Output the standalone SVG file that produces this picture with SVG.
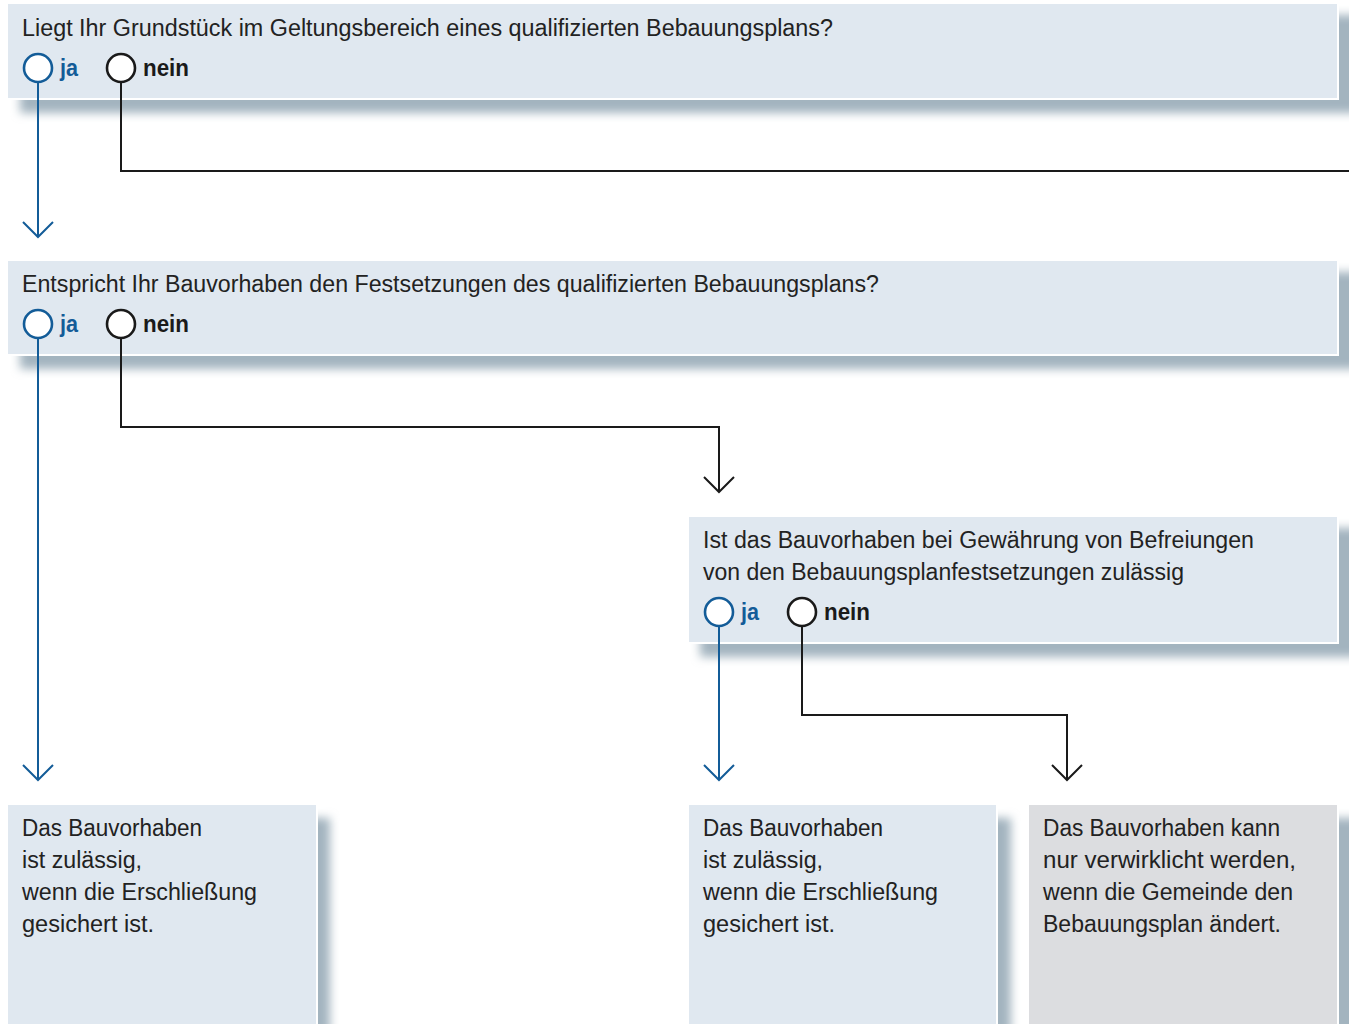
<svg xmlns="http://www.w3.org/2000/svg" width="1349" height="1024" viewBox="0 0 1349 1024">
<defs>
<filter id="sh" x="-10%" y="-50%" width="120%" height="200%">
<feGaussianBlur stdDeviation="5"/>
</filter>
<style>
.box{fill:#e0e8f0;stroke:#ffffff;stroke-width:2}
.gbox{fill:#dcdde0;stroke:#ffffff;stroke-width:2}
.shadow{fill:#a3b4bf;filter:url(#sh)}
.t{font-family:"Liberation Sans",Arial,sans-serif;font-size:23px;fill:#222222}
.ja{font-family:"Liberation Sans",Arial,sans-serif;font-size:23px;font-weight:bold;fill:#135c98}
.nein{font-family:"Liberation Sans",Arial,sans-serif;font-size:23px;font-weight:bold;fill:#1a1a1a}
.cb{fill:#ffffff;stroke:#135c98;stroke-width:2.6}
.ck{fill:#ffffff;stroke:#1a1a1a;stroke-width:2.6}
.lb{fill:none;stroke:#135c98;stroke-width:2}
.lk{fill:none;stroke:#1a1a1a;stroke-width:2}
</style>
</defs>
<rect width="1349" height="1024" fill="#ffffff"/>

<g id="q1">
<rect class="shadow" x="20" y="15" width="1340" height="98"/>
<rect class="box" x="7" y="3" width="1331" height="96"/>
<text class="t" x="22" y="36" textLength="811" lengthAdjust="spacingAndGlyphs">Liegt Ihr Grundstück im Geltungsbereich eines qualifizierten Bebauungsplans?</text>
<circle class="cb" cx="38" cy="68" r="14"/>
<text class="ja" x="60" y="76" textLength="18" lengthAdjust="spacingAndGlyphs">ja</text>
<circle class="ck" cx="121" cy="68" r="14"/>
<text class="nein" x="143" y="76" textLength="46" lengthAdjust="spacingAndGlyphs">nein</text>
</g>

<g id="q2">
<rect class="shadow" x="20" y="272" width="1340" height="97"/>
<rect class="box" x="7" y="260" width="1331" height="95"/>
<text class="t" x="22" y="292" textLength="857" lengthAdjust="spacingAndGlyphs">Entspricht Ihr Bauvorhaben den Festsetzungen des qualifizierten Bebauungsplans?</text>
<circle class="cb" cx="38" cy="324" r="14"/>
<text class="ja" x="60" y="332" textLength="18" lengthAdjust="spacingAndGlyphs">ja</text>
<circle class="ck" cx="121" cy="324" r="14"/>
<text class="nein" x="143" y="332" textLength="46" lengthAdjust="spacingAndGlyphs">nein</text>
</g>

<g id="q3">
<rect class="shadow" x="700" y="528" width="660" height="129"/>
<rect class="box" x="688" y="516" width="650" height="127"/>
<text class="t" x="703" y="548" textLength="551" lengthAdjust="spacingAndGlyphs">Ist das Bauvorhaben bei Gewährung von Befreiungen</text>
<text class="t" x="703" y="580" textLength="481" lengthAdjust="spacingAndGlyphs">von den Bebauungsplanfestsetzungen zulässig</text>
<circle class="cb" cx="719" cy="612" r="14"/>
<text class="ja" x="741" y="620" textLength="18" lengthAdjust="spacingAndGlyphs">ja</text>
<circle class="ck" cx="802" cy="612" r="14"/>
<text class="nein" x="824" y="620" textLength="46" lengthAdjust="spacingAndGlyphs">nein</text>
</g>

<g id="r1">
<rect class="shadow" x="20" y="818" width="310" height="230"/>
<rect class="box" x="7" y="804" width="310" height="240"/>
<text class="t" x="22" y="836" textLength="180" lengthAdjust="spacingAndGlyphs">Das Bauvorhaben</text>
<text class="t" x="22" y="868" textLength="120" lengthAdjust="spacingAndGlyphs">ist zulässig,</text>
<text class="t" x="22" y="900" textLength="235" lengthAdjust="spacingAndGlyphs">wenn die Erschließung</text>
<text class="t" x="22" y="932" textLength="132" lengthAdjust="spacingAndGlyphs">gesichert ist.</text>
</g>

<g id="r2">
<rect class="shadow" x="701" y="818" width="310" height="230"/>
<rect class="box" x="688" y="804" width="309" height="240"/>
<text class="t" x="703" y="836" textLength="180" lengthAdjust="spacingAndGlyphs">Das Bauvorhaben</text>
<text class="t" x="703" y="868" textLength="120" lengthAdjust="spacingAndGlyphs">ist zulässig,</text>
<text class="t" x="703" y="900" textLength="235" lengthAdjust="spacingAndGlyphs">wenn die Erschließung</text>
<text class="t" x="703" y="932" textLength="132" lengthAdjust="spacingAndGlyphs">gesichert ist.</text>
</g>

<g id="r3">
<rect class="shadow" x="1041" y="818" width="320" height="230"/>
<rect class="gbox" x="1028" y="804" width="310" height="240"/>
<text class="t" x="1043" y="836" textLength="237" lengthAdjust="spacingAndGlyphs">Das Bauvorhaben kann</text>
<text class="t" x="1043" y="868" textLength="253" lengthAdjust="spacingAndGlyphs">nur verwirklicht werden,</text>
<text class="t" x="1043" y="900" textLength="250" lengthAdjust="spacingAndGlyphs">wenn die Gemeinde den</text>
<text class="t" x="1043" y="932" textLength="238" lengthAdjust="spacingAndGlyphs">Bebauungsplan ändert.</text>
</g>

<g id="connectors">
<path class="lb" d="M38 82 V237 M23 222 L38 237 L53 222"/>
<path class="lk" d="M121 82 V171 H1349"/>
<path class="lb" d="M38 338 V780 M23 765 L38 780 L53 765"/>
<path class="lk" d="M121 338 V427 H719 V492 M704 477 L719 492 L734 477"/>
<path class="lb" d="M719 626 V780 M704 765 L719 780 L734 765"/>
<path class="lk" d="M802 626 V715 H1067 V780 M1052 765 L1067 780 L1082 765"/>
</g>
</svg>
